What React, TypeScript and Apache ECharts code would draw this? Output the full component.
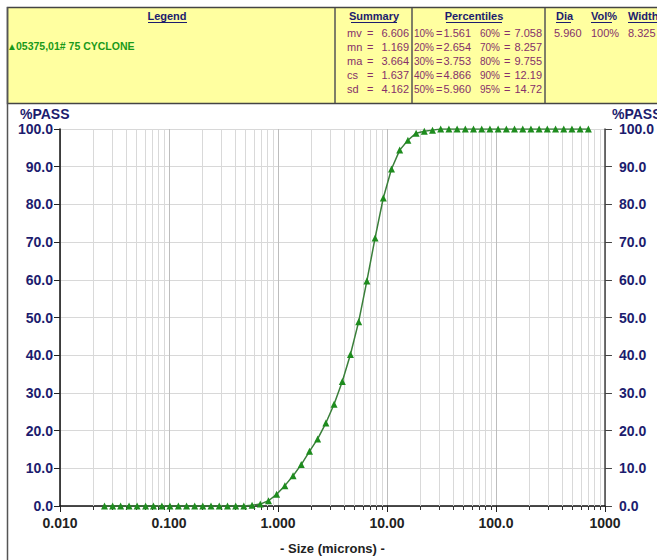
import React, { useEffect, useRef } from "react";
import * as echarts from "echarts";

// ---- Data ----
const sizes = [
  0.0256, 0.0304, 0.036, 0.043, 0.051, 0.061, 0.072, 0.086, 0.102, 0.122,
  0.145, 0.172, 0.204, 0.243, 0.289, 0.344, 0.409, 0.486, 0.578, 0.688,
  0.818, 0.972, 1.156, 1.375, 1.635, 1.945, 2.312, 2.75, 3.27, 3.89,
  4.62, 5.5, 6.54, 7.78, 9.25, 11, 13.08, 15.56, 18.5, 22,
  26.16, 31.11, 37, 44, 52.33, 62.23, 74, 88, 104.7, 124.5,
  148, 176, 209.3, 248.9, 296, 352, 418.6, 497.8, 592, 704,
];
const passPct = [
  0, 0, 0, 0, 0, 0, 0, 0, 0, 0,
  0, 0, 0, 0, 0, 0, 0, 0, 0.2, 0.5,
  1.4, 3.1, 5.4, 8.0, 11.0, 14.5, 17.8, 22.0, 27.0, 33.0,
  40.2, 48.9, 59.7, 71.1, 81.7, 89.4, 94.4, 97.0, 98.9, 99.4,
  99.7, 100, 100, 100, 100, 100, 100, 100, 100, 100,
  100, 100, 100, 100, 100, 100, 100, 100, 100, 100,
];
const seriesName = "05375,01# 75 CYCLONE";
const xTickLabels = ["0.010", "0.100", "1.000", "10.00", "100.0", "1000"];
const decades = [0.01, 0.1, 1, 10, 100];
const minorMultipliers = [2, 3, 4, 5, 6, 7, 8, 9];

const summaryLabels = ["mv", "mn", "ma", "cs", "sd"];
const summaryValues = ["6.606", "1.169", "3.664", "1.637", "4.162"];
const pctLeftLabels = ["10%", "20%", "30%", "40%", "50%"];
const pctLeftValues = ["1.561", "2.654", "3.753", "4.866", "5.960"];
const pctRightLabels = ["60%", "70%", "80%", "90%", "95%"];
const pctRightValues = ["7.058", "8.257", "9.755", "12.19", "14.72"];
const diaHeaders = ["Dia", "Vol%", "Width"];
const diaValues = ["5.960", "100%", "8.325"];

const FONT = 'Arial, "Liberation Sans", sans-serif';
const NAVY = "#1c1c6e";
const VAL = "#85306a";

function txt(text: string, x: number, y: number, font: string, fill: string, align = "left") {
  return {
    type: "text",
    x,
    y,
    silent: true,
    style: {
      text,
      font,
      fill,
      textAlign: align,
      align,
      textVerticalAlign: "middle",
      verticalAlign: "middle",
    },
  };
}
function ln(x1: number, y1: number, x2: number, y2: number, stroke: string, lineWidth = 1) {
  return { type: "line", silent: true, shape: { x1, y1, x2, y2 }, style: { stroke, lineWidth } };
}

export default function App() {
  const ref = useRef<HTMLDivElement>(null);
  useEffect(() => {
    if (!ref.current) return;
    const chart = echarts.init(ref.current, null, { renderer: "svg" });

    const minorTicks: number[] = [];
    decades.forEach((d) => minorMultipliers.forEach((m) => minorTicks.push(d * m)));

    const rowY = [33, 47, 61, 75, 89];
    const hdrFont = `bold 11px ${FONT}`;
    const valFont = `11px ${FONT}`;
    const pctFont = `10px ${FONT}`;

    const graphics: any[] = [
      {
        type: "rect",
        silent: true,
        shape: { x: 7.5, y: 7.5, width: 680, height: 96 },
        style: { fill: "#ffffa0", stroke: "#444", lineWidth: 1.5 },
      },
      ln(7.5, 7, 7.5, 560, "#555", 1.5),
      ln(335, 8, 335, 103, "#555", 1.5),
      ln(412, 8, 412, 103, "#555", 1.5),
      ln(545, 8, 545, 103, "#555", 1.5),
      // headers
      txt("Legend", 167, 16, hdrFont, NAVY, "center"),
      ln(148, 22.5, 187, 22.5, NAVY, 1),
      txt("Summary", 374, 16, hdrFont, NAVY, "center"),
      ln(351, 22.5, 397, 22.5, NAVY, 1),
      txt("Percentiles", 474, 16, hdrFont, NAVY, "center"),
      ln(446, 22.5, 502, 22.5, NAVY, 1),
      txt(diaHeaders[0], 556, 16, hdrFont, NAVY, "left"),
      ln(556, 22.5, 571, 22.5, NAVY, 1),
      txt(diaHeaders[1], 591, 16, hdrFont, NAVY, "left"),
      ln(591, 22.5, 612, 22.5, NAVY, 1),
      txt(diaHeaders[2], 628, 16, hdrFont, NAVY, "left"),
      ln(628, 22.5, 662, 22.5, NAVY, 1),
      // legend entry
      txt("\u25B2", 7, 46, `bold 10px ${FONT}`, "#1a9a1a", "left"),
      txt(seriesName, 16, 46, `bold 10.5px "Liberation Sans Narrow", "Arial Narrow", ${FONT}`, "#1a9a1a", "left"),
      // %PASS titles
      txt("%PASS", 20, 114, `bold 14px ${FONT}`, NAVY, "left"),
      txt("%PASS", 612, 114, `bold 14px ${FONT}`, NAVY, "left"),
    ];
    summaryLabels.forEach((l, i) => {
      graphics.push(txt(l, 347, rowY[i], valFont, VAL, "left"));
      graphics.push(txt("=", 367, rowY[i], valFont, VAL, "left"));
      graphics.push(txt(summaryValues[i], 409, rowY[i], valFont, VAL, "right"));
    });
    pctLeftLabels.forEach((l, i) => {
      graphics.push(txt(l, 414, rowY[i], pctFont, VAL, "left"));
      graphics.push(txt("=", 436, rowY[i], valFont, VAL, "left"));
      graphics.push(txt(pctLeftValues[i], 471, rowY[i], valFont, VAL, "right"));
      graphics.push(txt(pctRightLabels[i], 480, rowY[i], pctFont, VAL, "left"));
      graphics.push(txt("=", 504, rowY[i], valFont, VAL, "left"));
      graphics.push(txt(pctRightValues[i], 542, rowY[i], valFont, VAL, "right"));
    });
    graphics.push(txt(diaValues[0], 554, rowY[0], valFont, VAL, "left"));
    graphics.push(txt(diaValues[1], 591, rowY[0], valFont, VAL, "left"));
    graphics.push(txt(diaValues[2], 628, rowY[0], valFont, VAL, "left"));

    const yAxisCommon = {
      type: "value",
      min: 0,
      max: 100,
      interval: 10,
    };

    chart.setOption({
      animation: false,
      backgroundColor: "#ffffff",
      grid: { left: 60, right: 47, top: 129, bottom: 44, containLabel: false },
      xAxis: {
        type: "log",
        logBase: 10,
        min: 0.01,
        max: 1000,
        name: "- Size (microns) -",
        nameLocation: "middle",
        nameGap: 36,
        nameTextStyle: { fontFamily: FONT, fontWeight: "bold", fontSize: 13, color: "#222" },
        axisLine: { show: true, onZero: false, lineStyle: { color: "#111", width: 1.5 } },
        axisTick: { show: true, length: 6, lineStyle: { color: "#222" } },
        axisLabel: {
          margin: 10,
          fontFamily: FONT,
          fontWeight: "bold",
          fontSize: 14,
          color: "#222",
          formatter: (v: number) => xTickLabels[Math.round(Math.log10(v)) + 2] ?? "",
        },
        splitLine: { show: true, lineStyle: { color: "#bdbdbd", width: 1 } },
        minorTick: { show: false },
      },
      yAxis: [
        {
          ...yAxisCommon,
          position: "left",
          axisLine: { show: true, lineStyle: { color: "#111", width: 1.5 } },
          axisTick: { show: true, length: 6, lineStyle: { color: "#222" } },
          axisLabel: {
            margin: 7,
            fontFamily: FONT,
            fontWeight: "bold",
            fontSize: 14,
            color: NAVY,
            formatter: (v: number) => v.toFixed(1),
          },
          splitLine: { show: true, lineStyle: { color: "#d8d8d8", width: 1 } },
        },
        {
          ...yAxisCommon,
          position: "right",
          axisLine: { show: true, lineStyle: { color: "#444", width: 1.5 } },
          axisTick: { show: true, length: 7, lineStyle: { color: "#444" } },
          axisLabel: {
            margin: 14,
            fontFamily: FONT,
            fontWeight: "bold",
            fontSize: 14,
            color: NAVY,
            formatter: (v: number) => v.toFixed(1),
          },
          splitLine: { show: false },
        },
      ],
      graphic: graphics,
      series: [
        {
          type: "custom",
          name: "minor",
          silent: true,
          clip: false,
          z: 1,
          xAxisIndex: 0,
          yAxisIndex: 0,
          encode: { x: 0, y: 1 },
          data: minorTicks.map((v) => [v, 0]),
          renderItem: (params: any, api: any) => {
            const p = api.coord([api.value(0), 0]);
            const cs = params.coordSys;
            const x = Math.round(p[0]) + 0.5;
            return {
              type: "group",
              children: [
                {
                  type: "line",
                  shape: { x1: x, y1: cs.y, x2: x, y2: cs.y + cs.height },
                  style: { stroke: "#d9d9d9", lineWidth: 1 },
                },
                {
                  type: "line",
                  shape: { x1: x, y1: cs.y + cs.height, x2: x, y2: cs.y + cs.height + 4 },
                  style: { stroke: "#333", lineWidth: 1 },
                },
              ],
            };
          },
        },
        {
          type: "line",
          name: seriesName,
          z: 5,
          xAxisIndex: 0,
          yAxisIndex: 0,
          data: sizes.map((s, i) => [s, passPct[i]]),
          symbol: "triangle",
          symbolSize: 7,
          showAllSymbol: true,
          itemStyle: { color: "#1e8c1e" },
          lineStyle: { color: "#3a7f3a", width: 1.5 },
        },
      ],
    });
    return () => chart.dispose();
  }, []);
  return (
    <div
      ref={ref}
      style={{ position: "absolute", left: 0, top: 0, width: 657, height: 560 }}
    />
  );
}
